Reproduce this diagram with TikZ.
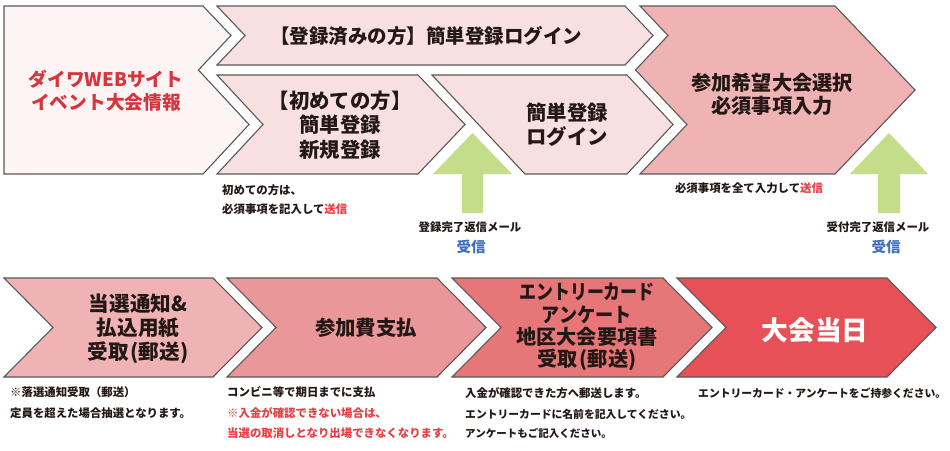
\documentclass[tikz,border=0pt]{standalone}
\usepackage{fontspec}
\usepackage{graphicx}
\setmainfont{Noto Sans CJK JP}
\definecolor{edge}{HTML}{5A5858}
\definecolor{fA}{HTML}{FDF4F5}
\definecolor{fB}{HTML}{F8E0E1}
\definecolor{fD}{HTML}{EFB3B4}
\definecolor{fE}{HTML}{EFB3B5}
\definecolor{fF}{HTML}{EA9799}
\definecolor{fG}{HTML}{E77679}
\definecolor{fH}{HTML}{E65056}
\definecolor{grn}{HTML}{C3DD8B}
\definecolor{txt}{HTML}{231815}
\definecolor{redt}{HTML}{D7343C}
\definecolor{redn}{HTML}{E83D43}
\definecolor{bluet}{HTML}{3F6DC0}
\tikzset{
  shp/.style={draw=edge, line width=1.1pt, line join=miter},
  big/.style={font=\bfseries\fontsize{20.4}{24.5}\selectfont, text=txt, align=center, inner sep=0pt},
  note/.style={font=\bfseries\fontsize{11.4}{13}\selectfont, text=txt, inner sep=0pt, anchor=west},
  recv/.style={font=\bfseries\fontsize{14.5}{16}\selectfont, text=bluet, inner sep=0pt},
  arr/.style={fill=grn, draw=none}
}
\begin{document}
\begin{tikzpicture}[x=1pt,y=-1pt]
\useasboundingbox (0,0) rectangle (950,450);
\fill[white] (0,0) rectangle (950,450);
% ---- row 1 shapes
\path[shp, fill=fA] (4,6) -- (203,6) -- (231,35.5) -- (198.4,70) -- (249,124.5) -- (203,174) -- (4,174) -- cycle;
\path[shp, fill=fB] (217,6) -- (625,6) -- (653,35.5) -- (625,65) -- (217,65) -- (245,35.5) -- cycle;
\path[shp, fill=fB] (217,75) -- (418,75) -- (465,124.5) -- (418,174) -- (217,174) -- (263,124.5) -- cycle;
\path[shp, fill=fB] (432,75) -- (627,75) -- (673,124.5) -- (627,174) -- (525,174) -- cycle;
\path[shp, fill=fD] (640,6) -- (835,6) -- (915,90) -- (835,174) -- (640,174) -- (687,124.5) -- (635.5,70) -- (668,35.5) -- cycle;
% green arrows
\fill[arr] (462,213) -- (462,174) -- (433,174) -- (472.5,133) -- (512,174) -- (483,174) -- (483,213) -- cycle;
\fill[arr] (878,213) -- (878,174) -- (850,174) -- (889,133) -- (928,174) -- (900,174) -- (900,213) -- cycle;
% ---- row 2 shapes
\path[shp, fill=fE] (4,278) -- (213,278) -- (262,327.5) -- (213,377) -- (4,377) -- (53,327.5) -- cycle;
\path[shp, fill=fF] (227,278) -- (437,278) -- (486,327.5) -- (437,377) -- (227,377) -- (276,327.5) -- cycle;
\path[shp, fill=fG] (452,278) -- (663,278) -- (712,327.5) -- (663,377) -- (452,377) -- (501,327.5) -- cycle;
\path[shp, fill=fH] (677,278) -- (887,278) -- (936,327.5) -- (887,377) -- (677,377) -- (726,327.5) -- cycle;
% ---- box texts
\node[big, text=redt, font=\bfseries\fontsize{18.7}{23}\selectfont] (tA) at (106,91) {ダイワWEBサイト\\イベント大会情報};
\node[big, font=\bfseries\fontsize{19.5}{24}\selectfont] (tB1) at (426,36) {【登録済みの方】簡単登録ログイン};
\node[big] (tB2) at (340,125) {【初めての方】\\簡単登録\\新規登録};
\node[big, font=\bfseries\fontsize{20.4}{24}\selectfont] (tC) at (567,125) {簡単登録\\ログイン};
\node[big, font=\bfseries\fontsize{20.2}{23}\selectfont] (tD) at (772,94) {参加希望大会選択\\必須事項入力};
\node[big, font=\bfseries\fontsize{20.6}{24}\selectfont] (tE) at (138,329) {当選通知\&\\払込用紙\\受取\hspace{2pt}(郵送)};
\node[big] (tF) at (366,328) {参加費支払};
\node[big, font=\bfseries\fontsize{20.2}{22.3}\selectfont] (tG) at (587,327) {\scalebox{0.84}[1]{エントリーカード}\\\scalebox{0.9}[1]{アンケート}\\地区大会要項書\\受取\hspace{2pt}(郵送)};
\node[big, text=white, font=\bfseries\fontsize{26.7}{30}\selectfont] (tH) at (815,330) {大会当日};
% ---- top notes
\node[note] (n1) at (222,190) {初めての方は、};
\node[note] (n2) at (222,209) {必須事項を記入して\textcolor{redn}{送信}};
\node[note, anchor=center] (n3) at (749,188) {必須事項を全て入力して\textcolor{redn}{送信}};
\node[note, anchor=center] (n4) at (470,227) {登録完了返信メール};
\node[recv] (r1) at (471,247) {受信};
\node[note, anchor=center] (n5) at (878,227) {受付完了返信メール};
\node[recv] (r2) at (886,247) {受信};
% ---- bottom notes
\node[note] (m1) at (10,392) {※落選通知受取（郵送）};
\node[note] (m2) at (10,413) {定員を超えた場合抽選となります。};
\node[note] (m3) at (227,392) {コンビニ等で期日までに支払};
\node[note, text=redn] (m4) at (227,413) {※入金が確認できない場合は、};
\node[note, text=redn] (m5) at (227,433) {当選の取消しとなり出場できなくなります。};
\node[note] (m6) at (465,393) {入金が確認できた方へ郵送します。};
\node[note, font=\bfseries\fontsize{10.8}{13}\selectfont] (m7) at (465,414) {エントリーカードに名前を記入してください。};
\node[note, font=\bfseries\fontsize{10.5}{13}\selectfont] (m8) at (465,433) {アンケートもご記入ください。};
\node[note, font=\bfseries\fontsize{10.8}{13}\selectfont] (m9) at (698,393) {エントリーカード・アンケートをご持参ください。};
\end{tikzpicture}
\end{document}
